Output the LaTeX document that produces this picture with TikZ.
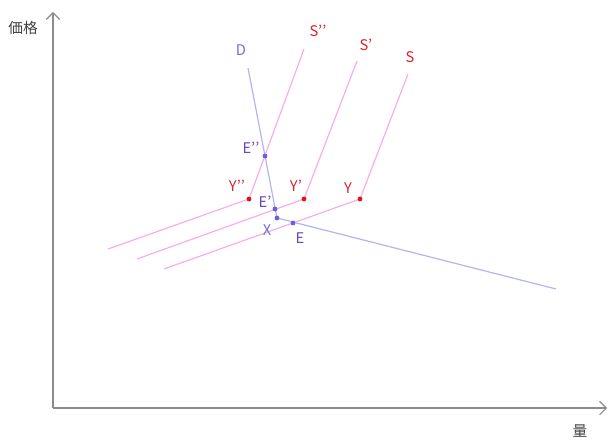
\documentclass[tikz,border=0pt]{standalone}
\usepackage{fontspec}
\setmainfont{Noto Sans CJK JP}
\usetikzlibrary{arrows.meta}
\definecolor{axisgray}{RGB}{140,140,140}
\definecolor{dline}{RGB}{180,180,240}
\definecolor{sline}{RGB}{244,175,232}
\definecolor{ptred}{RGB}{225,20,30}
\definecolor{ptblue}{RGB}{105,95,225}
\definecolor{lblred}{RGB}{215,35,45}
\definecolor{lblblue}{RGB}{110,110,220}
\definecolor{lblpurple}{RGB}{105,70,190}
\newcommand{\pr}{\symbol{39}}
\tikzset{
  axis/.style={draw=axisgray, line width=0.8pt, -{Straight Barb[length=5pt,width=10pt]}},
  dcurve/.style={draw=dline, line width=0.9pt},
  scurve/.style={draw=sline, line width=0.9pt},
  redpt/.style={circle, fill=ptred, inner sep=0pt, minimum size=3.6pt},
  bluept/.style={circle, fill=ptblue, inner sep=0pt, minimum size=3.6pt},
  lbl/.style={font=\fontsize{11pt}{12pt}\selectfont, inner sep=0pt},
}
\begin{document}
\begin{tikzpicture}[x=0.75pt,y=-0.75pt]
\useasboundingbox (0,0) rectangle (610,441);
% axes
\coordinate (O) at (53,408);
\coordinate (ytop) at (53,12);
\coordinate (xend) at (607,408);
\draw[axis] (O) -- (ytop);
\draw[axis] (O) -- (xend);
\node[lbl, text=black!75] (ylab) at (23,28) {価格};
\node[lbl, text=black!75] (xlab) at (580,431) {量};
% demand curve
\coordinate (Dtop) at (248,68);
\coordinate (X) at (277,218);
\coordinate (Dend) at (556,289);
\draw[dcurve] (Dtop) -- (X) -- (Dend);
% supply curves
\coordinate (Stop) at (408,74);
\coordinate (Y) at (360,199);
\coordinate (Send) at (164,269);
\coordinate (S1top) at (357,61);
\coordinate (Y1) at (304,199);
\coordinate (S1end) at (137,259);
\coordinate (S2top) at (304,49);
\coordinate (Y2) at (249,199);
\coordinate (S2end) at (108,249);
\draw[scurve] (Stop) -- (Y) -- (Send);
\draw[scurve] (S1top) -- (Y1) -- (S1end);
\draw[scurve] (S2top) -- (Y2) -- (S2end);
% points
\node[redpt] (pY) at (Y) {};
\node[redpt] (pY1) at (Y1) {};
\node[redpt] (pY2) at (Y2) {};
\node[bluept] (pE2) at (265,156) {};
\node[bluept] (pE1) at (275,209) {};
\node[bluept] (pX) at (X) {};
\node[bluept] (pE) at (293,223) {};
% labels
\node[lbl, text=lblblue] (lD) at (241,50) {D};
\node[lbl, text=lblred] (lS2) at (318,31) {S\pr\pr};
\node[lbl, text=lblred] (lS1) at (366,45) {S\pr};
\node[lbl, text=lblred] (lS) at (410,57) {S};
\node[lbl, text=lblpurple] (lE2) at (251,148) {E\pr\pr};
\node[lbl, text=lblred] (lY2) at (237,186) {Y\pr\pr};
\node[lbl, text=lblred] (lY1) at (296,186) {Y\pr};
\node[lbl, text=lblred] (lY) at (348,188) {Y};
\node[lbl, text=lblpurple] (lE1) at (265,202) {E\pr};
\node[lbl, text=lblblue] (lX) at (267,230) {X};
\node[lbl, text=lblpurple] (lE) at (300,238) {E};
\end{tikzpicture}
\end{document}
